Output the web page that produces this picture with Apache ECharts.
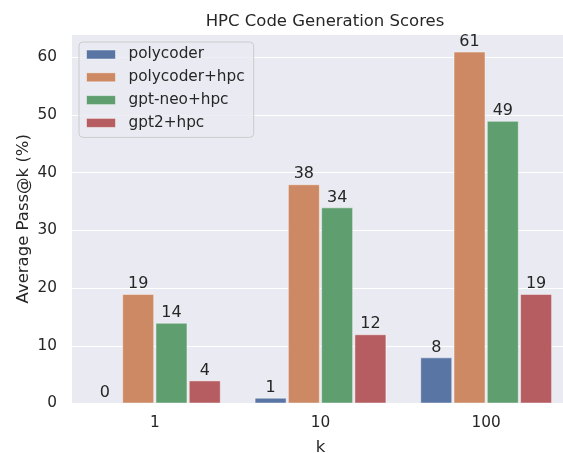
<!DOCTYPE html>
<html>
<head>
<meta charset="utf-8">
<script src="https://cdn.jsdelivr.net/npm/echarts@6/dist/echarts.min.js"></script>
<style>
  html, body { margin: 0; padding: 0; background: #fff; }
  #chart { width: 563px; height: 453px; }
</style>
</head>
<body>
<div id="chart"></div>
<script>
  // values
  var kValues = ['1', '10', '100']
  var seriesNames = ['polycoder', 'polycoder+hpc', 'gpt-neo+hpc', 'gpt2+hpc']
  var polycoder = [0, 1, 8]
  var polycoderHpc = [19, 38, 61]
  var gptNeoHpc = [14, 34, 49]
  var gpt2Hpc = [4, 12, 19]
  var yTicks = [0, 10, 20, 30, 40, 50, 60]

  var colors = ['#5875A4', '#CC8963', '#5F9E6E', '#B55D60']
  var textColor = '#262626'
  var font = 'DejaVu Sans'

  function bar (name, data, idx) {
    return {
      name: name,
      type: 'bar',
      data: data,
      barWidth: 32,
      barGap: '4%',
      itemStyle: {
        color: colors[idx],
        borderColor: 'rgba(255,255,255,0.45)',
        borderWidth: 1
      },
      label: {
        show: true,
        position: 'top',
        distance: 2,
        color: textColor,
        fontFamily: font,
        fontSize: 16
      }
    }
  }

  var chart = echarts.init(document.getElementById('chart'), null, { renderer: 'canvas' })
  chart.setOption({
    animation: false,
    backgroundColor: '#fff',
    title: {
      text: 'HPC Code Generation Scores',
      left: 320,
      textAlign: 'center',
      top: 8,
      textStyle: { color: textColor, fontFamily: font, fontSize: 16.5, fontWeight: 'normal' }
    },
    grid: {
      left: 72,
      right: -6,
      top: 34,
      bottom: 49.5,
      outerBoundsMode: 'none',
      show: true,
      backgroundColor: '#EAEAF2',
      borderWidth: 0
    },
    legend: {
      orient: 'vertical',
      left: 79,
      top: 42,
      padding: [4, 9, 6, 7],
      itemGap: 5.8,
      itemWidth: 29,
      itemHeight: 9,
      backgroundColor: 'rgba(234,234,242,0.8)',
      borderColor: '#CCCCCC',
      borderWidth: 1,
      borderRadius: 4,
      textStyle: {
        color: textColor,
        fontFamily: font,
        fontSize: 15.3,
        lineHeight: 17,
        padding: [0, 0, 0, 8]
      },
      data: seriesNames.map(function (n, i) {
        return { name: n, icon: 'rect', itemStyle: { color: colors[i], borderColor: 'rgba(255,255,255,0.45)', borderWidth: 1 } }
      })
    },
    xAxis: {
      type: 'category',
      data: kValues,
      name: 'k',
      nameLocation: 'middle',
      nameGap: 36,
      nameMoveOverlap: false,
      nameTextStyle: { color: textColor, fontFamily: font, fontSize: 16.5 },
      axisLine: { show: false },
      axisTick: { show: false },
      axisLabel: { color: textColor, fontFamily: font, fontSize: 15.3, margin: 12 },
      splitLine: { show: false }
    },
    yAxis: {
      type: 'value',
      min: 0,
      max: 64.05,
      interval: 10,
      name: 'Average Pass@k (%)',
      nameLocation: 'middle',
      nameGap: 40,
      nameMoveOverlap: false,
      nameTextStyle: { color: textColor, fontFamily: font, fontSize: 16.5 },
      axisLine: { show: false },
      axisTick: { show: false },
      axisLabel: {
        color: textColor,
        fontFamily: font,
        fontSize: 15.3,
        margin: 15,
        formatter: function (v) { return yTicks.indexOf(v) >= 0 ? String(v) : '' }
      },
      splitLine: { lineStyle: { color: '#FFFFFF', width: 1.2 } }
    },
    series: [
      bar(seriesNames[0], polycoder, 0),
      bar(seriesNames[1], polycoderHpc, 1),
      bar(seriesNames[2], gptNeoHpc, 2),
      bar(seriesNames[3], gpt2Hpc, 3)
    ]
  })
  window.addEventListener('resize', chart.resize)
</script>
</body>
</html>
